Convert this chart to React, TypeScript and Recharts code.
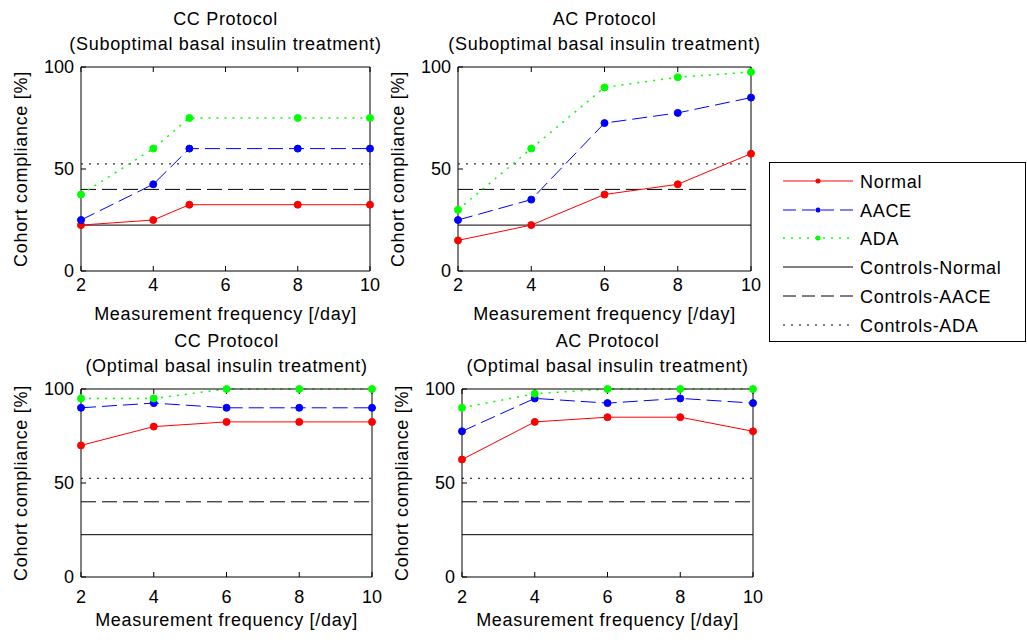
import React from 'react';
import { LineChart, Line, XAxis, YAxis, ReferenceLine } from 'recharts';

// ---- Data ----
const xTicks = [2, 4, 6, 8, 10];
const yTicks = [0, 50, 100];

// Controls (same in every panel): Normal, AACE, ADA
const controlsValues = [22.5, 40, 52.5];

// CC Protocol, suboptimal
const ccSubX = [2, 4, 5, 8, 10];
const ccSubNormal = [22.5, 25, 32.5, 32.5, 32.5];
const ccSubAACE = [25, 42.5, 60, 60, 60];
const ccSubADA = [37.5, 60, 75, 75, 75];

// AC Protocol, suboptimal
const acSubX = [2, 4, 6, 8, 10];
const acSubNormal = [15, 22.5, 37.5, 42.5, 57.5];
const acSubAACE = [25, 35, 72.5, 77.5, 85];
const acSubADA = [30, 60, 90, 95, 97.5];

// CC Protocol, optimal
const ccOptX = [2, 4, 6, 8, 10];
const ccOptNormal = [70, 80, 82.5, 82.5, 82.5];
const ccOptAACE = [90, 92.5, 90, 90, 90];
const ccOptADA = [95, 95, 100, 100, 100];

// AC Protocol, optimal
const acOptX = [2, 4, 6, 8, 10];
const acOptNormal = [62.5, 82.5, 85, 85, 77.5];
const acOptAACE = [77.5, 95, 92.5, 95, 92.5];
const acOptADA = [90, 97.5, 100, 100, 100];

const legendLabels = ['Normal', 'AACE', 'ADA', 'Controls-Normal', 'Controls-AACE', 'Controls-ADA'];

const FONT = '"Liberation Sans", Arial, sans-serif';
const RED = '#ff0000';
const BLUE = '#0000ff';
const GREEN = '#00ff00';
const DASH = '15 6';
const DOT = '2 6';

type PanelProps = {
  box: [number, number, number, number];
  xs: number[];
  normal: number[];
  aace: number[];
  ada: number[];
  tickMarginX: number;
};

function Panel({ box, xs, normal, aace, ada, tickMarginX }: PanelProps) {
  const data = xs.map((x, i) => ({ x, normal: normal[i], aace: aace[i], ada: ada[i] }));
  const [x0, y0, x1, y1] = box;
  const ML = 60, MT = 10, MR = 10, XH = 50;
  const tickStyle = { fill: '#000', fontSize: 18, fontFamily: FONT };
  return (
    <div style={{ position: 'absolute', left: x0 - ML, top: y0 - MT }}>
      <LineChart
        width={x1 - x0 + ML + MR}
        height={y1 - y0 + MT + XH}
        data={data}
        margin={{ top: MT - 1, right: MR - 1, left: 0, bottom: 0 }}
        style={{ fontFamily: FONT }}
      >
        <XAxis
          dataKey="x"
          type="number"
          domain={[2, 10]}
          ticks={xTicks}
          height={XH}
          stroke="#000"
          tickSize={-5}
          tickMargin={tickMarginX}
          tick={tickStyle}
          interval={0}
        />
        <XAxis
          xAxisId="top"
          orientation="top"
          dataKey="x"
          type="number"
          domain={[2, 10]}
          ticks={xTicks}
          height={1}
          stroke="#000"
          tickSize={-5}
          tickFormatter={() => ''}
          interval={0}
        />
        <YAxis
          type="number"
          domain={[0, 100]}
          ticks={yTicks}
          width={ML}
          stroke="#000"
          tickSize={-5}
          tickMargin={12}
          tick={tickStyle}
          interval={0}
        />
        <YAxis
          yAxisId="right"
          orientation="right"
          type="number"
          domain={[0, 100]}
          ticks={yTicks}
          width={1}
          stroke="#000"
          tickSize={-5}
          tickFormatter={() => ''}
          interval={0}
        />
        <ReferenceLine y={controlsValues[0]} stroke="#000" strokeWidth={1} />
        <ReferenceLine y={controlsValues[1]} stroke="#000" strokeWidth={1} strokeDasharray={DASH} />
        <ReferenceLine y={controlsValues[2]} stroke="#000" strokeWidth={1} strokeDasharray={DOT} />
        <Line
          dataKey="normal"
          type="linear"
          stroke={RED}
          strokeWidth={1}
          dot={{ r: 3.5, fill: RED, stroke: RED, strokeWidth: 1 }}
          isAnimationActive={false}
        />
        <Line
          dataKey="aace"
          type="linear"
          stroke={BLUE}
          strokeWidth={1}
          strokeDasharray={DASH}
          dot={{ r: 3.5, fill: BLUE, stroke: BLUE, strokeWidth: 1, strokeDasharray: '' }}
          isAnimationActive={false}
        />
        <Line
          dataKey="ada"
          type="linear"
          stroke={GREEN}
          strokeWidth={1.5}
          strokeDasharray={DOT}
          dot={{ r: 3.5, fill: GREEN, stroke: GREEN, strokeWidth: 1, strokeDasharray: '' }}
          isAnimationActive={false}
        />
      </LineChart>
    </div>
  );
}

type Box = [number, number, number, number];
const boxTL: Box = [81, 67, 370, 271];
const boxTR: Box = [458, 67, 751, 271];
const boxBL: Box = [81, 389, 372, 577];
const boxBR: Box = [462, 389, 753, 577];

function Labels({ box, t1, t2 }: { box: Box; t1: string; t2: string }) {
  const [x0, y0, x1, y1] = box;
  const cx = (x0 + x1) / 2;
  const cy = (y0 + y1) / 2;
  const ls = 0.7;
  return (
    <g fontFamily={FONT} fontSize={18} fill="#000" style={{ letterSpacing: ls }}>
      <text x={cx} y={y0 - 42} textAnchor="middle">{t1}</text>
      <text x={cx} y={y0 - 17} textAnchor="middle">{t2}</text>
      <text x={cx} y={y1 + 49} textAnchor="middle">Measurement frequency [/day]</text>
      <text x={x0 - 54} y={cy} textAnchor="middle" transform={`rotate(-90 ${x0 - 54} ${cy})`}>
        Cohort compliance [%]
      </text>
    </g>
  );
}

function Legend() {
  const lx0 = 783, lx1 = 853, mx = 818, tx = 860;
  const rows = [187.5, 216.5, 244.5, 273.5, 302.5, 331.5];
  const styles = [
    { c: RED, d: undefined, m: true, w: 1 },
    { c: BLUE, d: '13 6', m: true, w: 1 },
    { c: GREEN, d: DOT, m: true, w: 1.5 },
    { c: '#000', d: undefined, m: false, w: 1 },
    { c: '#000', d: '13 6', m: false, w: 1 },
    { c: '#000', d: DOT, m: false, w: 1 },
  ];
  return (
    <g>
      <rect x={769.5} y={162.5} width={256} height={179} fill="#fff" stroke="#000" strokeWidth={1} />
      {legendLabels.map((lab, i) => {
        const y = rows[i] - 6.5;
        const s = styles[i];
        return (
          <g key={lab}>
            <line x1={lx0} x2={lx1} y1={y} y2={y} stroke={s.c} strokeWidth={s.w} strokeDasharray={s.d} />
            {s.m && <circle cx={mx} cy={y} r={2.5} fill={s.c} />}
            <text x={tx} y={rows[i]} fontFamily={FONT} fontSize={18} fill="#000" style={{ letterSpacing: 0.7 }}>
              {lab}
            </text>
          </g>
        );
      })}
    </g>
  );
}

export default function App() {
  return (
    <div style={{ position: 'absolute', left: 0, top: 0, width: 1027, height: 640, background: '#fff', overflow: 'hidden' }}>
      <Panel box={boxTL} xs={ccSubX} normal={ccSubNormal} aace={ccSubAACE} ada={ccSubADA} tickMarginX={12} />
      <Panel box={boxTR} xs={acSubX} normal={acSubNormal} aace={acSubAACE} ada={acSubADA} tickMarginX={12} />
      <Panel box={boxBL} xs={ccOptX} normal={ccOptNormal} aace={ccOptAACE} ada={ccOptADA} tickMarginX={18} />
      <Panel box={boxBR} xs={acOptX} normal={acOptNormal} aace={acOptAACE} ada={acOptADA} tickMarginX={18} />
      <svg width={1027} height={640} style={{ position: 'absolute', left: 0, top: 0, pointerEvents: 'none' }}>
        <Labels box={boxTL} t1="CC Protocol" t2="(Suboptimal basal insulin treatment)" />
        <Labels box={boxTR} t1="AC Protocol" t2="(Suboptimal basal insulin treatment)" />
        <Labels box={boxBL} t1="CC Protocol" t2="(Optimal basal insulin treatment)" />
        <Labels box={boxBR} t1="AC Protocol" t2="(Optimal basal insulin treatment)" />
        <Legend />
      </svg>
    </div>
  );
}
